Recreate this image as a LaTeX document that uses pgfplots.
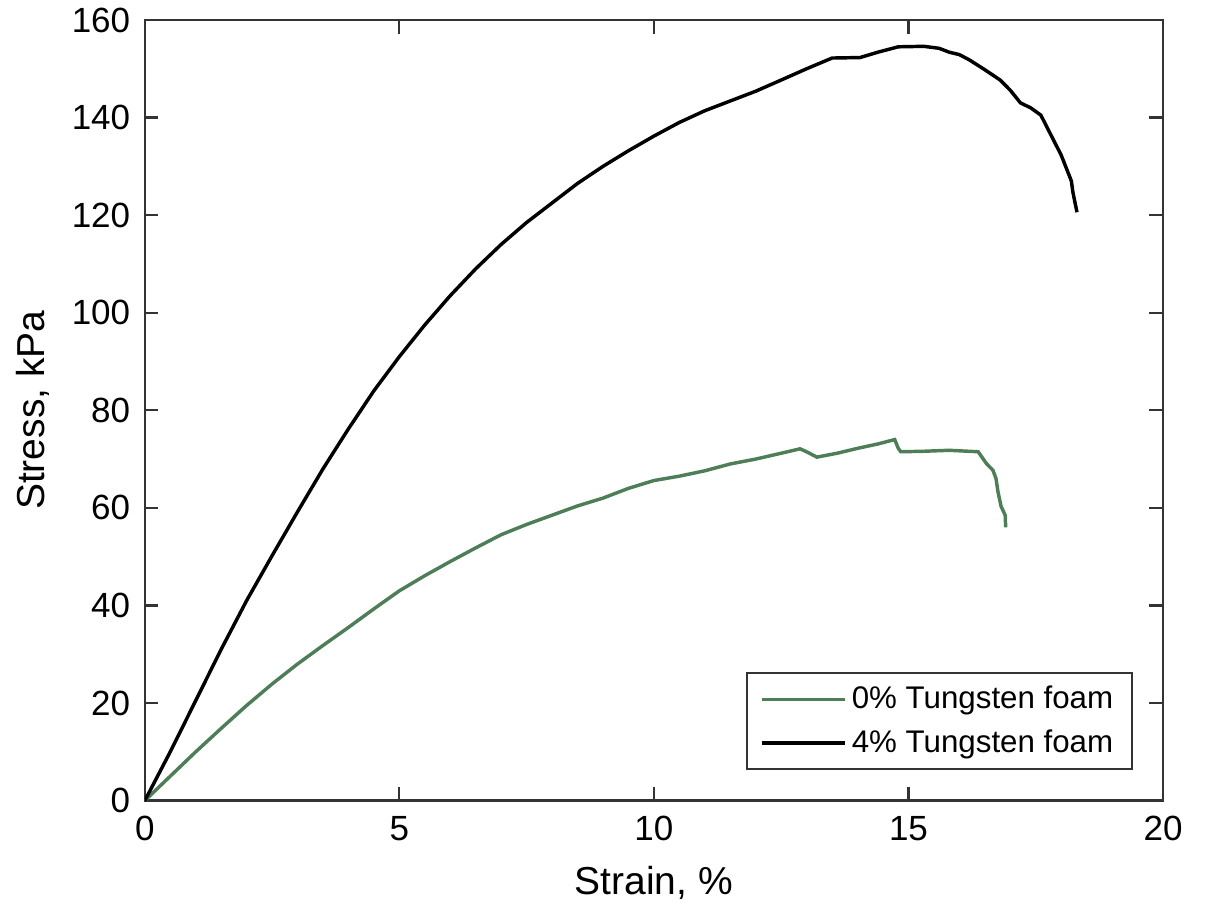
\documentclass[border=0pt]{standalone}
\usepackage{pgfplots}
\pgfplotsset{compat=1.18}
\usepackage{fontspec}
\setmainfont{Liberation Sans}
\definecolor{foamgreen}{RGB}{78,126,88}
\begin{document}
\begin{tikzpicture}
\begin{axis}[
    scale only axis,
    width=13.5cm,
    height=10.35cm,
    xmin=0, xmax=20,
    ymin=0, ymax=160,
    xtick={0,5,...,20},
    ytick={0,20,...,160},
    tick align=inside,
    major tick length=0.18cm,
    axis line style={line width=0.9pt, black!80},
    every tick/.style={line width=0.8pt, black!80},
    font=\fontsize{13.2}{15}\selectfont,
    /pgf/number format/assume math mode=true,
    xticklabel style={yshift=-2.4pt},
    yticklabel style={xshift=-2pt},
    xlabel={Strain, \%},
    ylabel={Stress, kPa},
    xlabel style={font=\fontsize{14.7}{17}\selectfont, yshift=-2.5pt},
    ylabel style={font=\fontsize{14.7}{17}\selectfont, yshift=1.5pt},
    legend style={at={(rel axis cs:1,0)}, anchor=south east,
        xshift=-0.4cm, yshift=0.4cm,
        draw=black!80, line width=0.8pt, inner xsep=5pt, inner ysep=3pt,
        font=\fontsize{11.8}{14}\selectfont, row sep=2.3pt},
    legend cell align=left,
    legend image code/.code={\draw[#1, line width=1.3pt] (0cm,0cm) -- (1.1cm,0cm);},
]
\addplot[foamgreen, line width=1.3pt] coordinates {
    (0,0) (0.5,5) (1,10) (1.5,14.8) (2,19.5) (2.5,23.9) (3,28) (3.5,31.8)
    (4,35.5) (4.5,39.3) (5,43) (5.5,46.1) (6,49) (6.5,51.8) (7,54.5)
    (7.5,56.6) (8,58.5) (8.5,60.4) (9,62) (9.5,64) (10,65.6) (10.5,66.5)
    (11,67.6) (11.5,69) (12,70) (12.5,71.2) (12.87,72.1) (13.0,71.5)
    (13.2,70.4) (13.6,71.2) (14.0,72.2) (14.4,73.1) (14.73,74.0) (14.8,72.2)
    (14.85,71.5) (15.3,71.6) (15.8,71.8) (16.37,71.5) (16.45,70.3)
    (16.53,69.1) (16.66,67.7) (16.72,66) (16.76,63.2) (16.82,60.3)
    (16.9,58.5) (16.91,56)
};
\addlegendentry{0\% Tungsten foam}
\addplot[black, line width=1.3pt] coordinates {
    (0,0) (0.5,10) (1,20.5) (1.5,31) (2,41) (2.5,50.2) (3,59.2) (3.5,68)
    (4,76.2) (4.5,84) (5,91) (5.5,97.5) (6,103.5) (6.5,109) (7,114)
    (7.5,118.5) (8,122.5) (8.5,126.5) (9,130) (9.5,133.2) (10,136.2)
    (10.5,139) (11,141.4) (11.5,143.4) (12,145.4) (12.48,147.6) (13,150)
    (13.5,152.2) (14.05,152.3) (14.4,153.4) (14.8,154.5) (15.3,154.6)
    (15.6,154.2) (15.8,153.4) (16.0,152.9) (16.2,151.8) (16.5,149.8)
    (16.8,147.7) (17.0,145.6) (17.2,143) (17.4,142) (17.6,140.5)
    (17.8,136.4) (18.0,132.3) (18.2,127) (18.23,124.7) (18.31,120.6)
};
\addlegendentry{4\% Tungsten foam}
\coordinate (ll) at (rel axis cs:0,0);
\coordinate (ur) at (rel axis cs:1,1);
\end{axis}
\pgfresetboundingbox
\path ([shift={(-1.92cm,-1.54cm)}]ll) rectangle ([shift={(0.57cm,0.265cm)}]ur);
\end{tikzpicture}
\end{document}
